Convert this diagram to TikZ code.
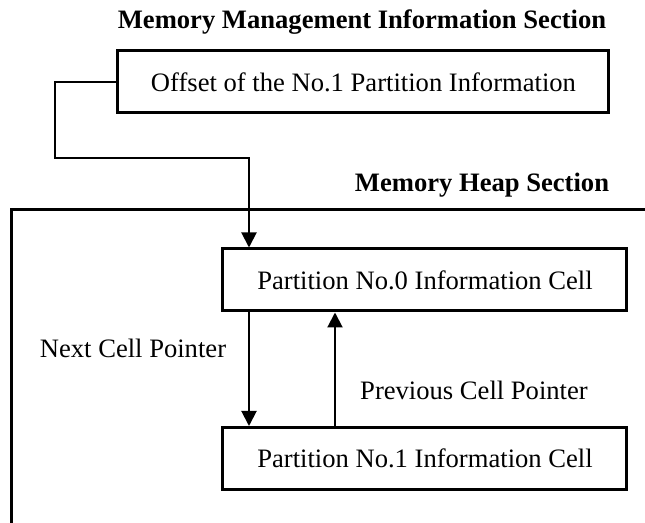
\documentclass[tikz,border=0pt]{standalone}
\usepackage{fontspec}
\setmainfont{Liberation Serif}
\usetikzlibrary{arrows.meta}
\begin{document}
\begin{tikzpicture}[
  x=0.5pt,y=-0.5pt,
  font=\fontsize{13.3}{16}\selectfont,
  cell/.style={draw, line width=1.5pt, fill=white, minimum width=202pt, minimum height=31pt, inner sep=0pt},
  heading/.style={font=\fontsize{13.3}{16}\selectfont\bfseries},
  frame/.style={line width=1.5pt},
  link/.style={line width=1pt},
  ptr/.style={-{Triangle[width=7.5pt,length=7.5pt]}, line width=1pt},
  note/.style={inner sep=0pt}
]

% Canvas: 645x523
\path[use as bounding box] (0,0) rectangle (645,523);

% Management section
\node[heading] (mgmt) at (362,22) {Memory Management Information Section};
\node[cell, minimum width=245.5pt] (offset) at (363.5,82) {Offset of the No.1 Partition Information};

% Heap section
\node[heading] (heap) at (482,185) {Memory Heap Section};
\draw[frame] (12,523) -- (12,210) -- (645,210);

% Partition cells
\node[cell] (cell0) at (425,280) {Partition No.0 Information Cell};
\node[cell] (cell1) at (425,458.5) {Partition No.1 Information Cell};

% Offset pointer
\coordinate (corner) at (55,158);
\coordinate (bend) at (249,158);
\draw[ptr] (offset.west) -| (corner) -- (bend) -- (bend |- cell0.north);

% Cell pointers
\coordinate (nx) at (249,0);
\coordinate (pv) at (335,0);
\draw[ptr] (nx |- cell0.south) -- (nx |- cell1.north);
\draw[ptr] (pv |- cell1.north) -- (pv |- cell0.south);

\node[note] (next) at (133,348) {Next Cell Pointer};
\node[note] (prev) at (474,390) {Previous Cell Pointer};

\end{tikzpicture}
\end{document}
